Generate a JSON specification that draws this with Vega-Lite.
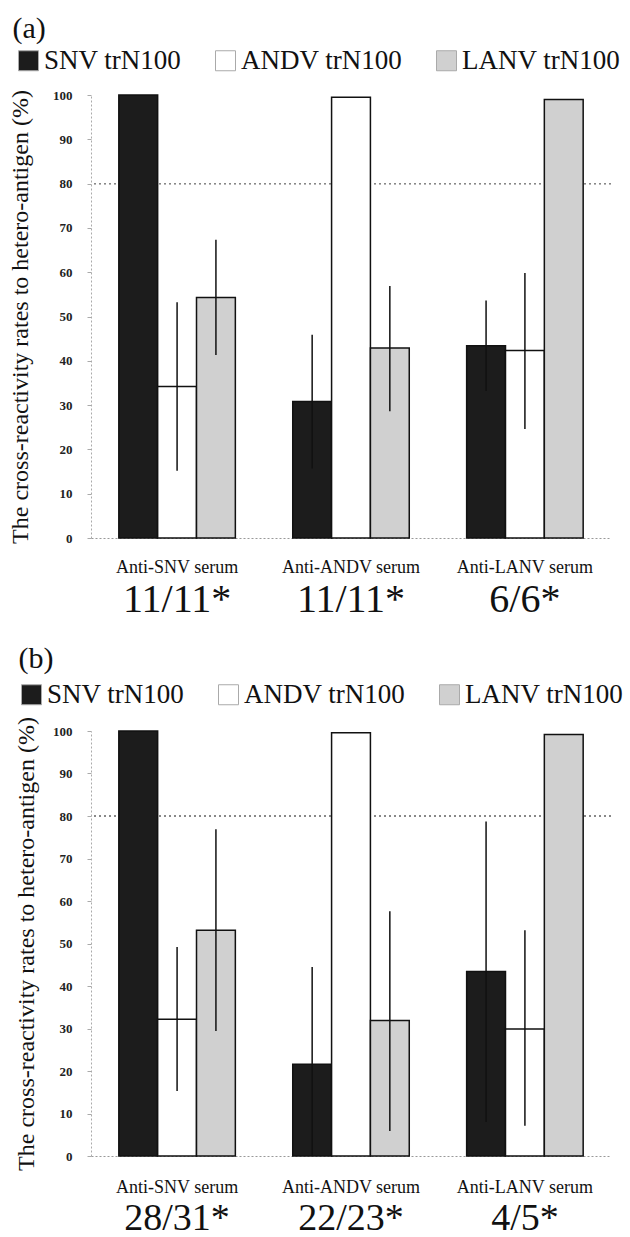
{
  "$schema": "https://vega.github.io/schema/vega-lite/v6.json",
  "background": "white",
  "padding": {"left": 8, "top": 14, "right": 5, "bottom": 0},
  "config": {
    "font": "Liberation Serif",
    "view": {"stroke": null},
    "axis": {"labelFont": "Liberation Serif", "titleFont": "Liberation Serif"},
    "legend": {"labelFont": "Liberation Serif", "titleFont": "Liberation Serif", "padding": 0},
    "title": {"font": "Liberation Serif"}
  },
  "datasets": {
    "rates": [
      {"panel": "a", "serum": "Anti-SNV serum", "virus": "SNV trN100", "value": 100, "lo": null, "hi": null},
      {"panel": "a", "serum": "Anti-SNV serum", "virus": "ANDV trN100", "value": 34.2, "lo": 15.2, "hi": 53.2},
      {"panel": "a", "serum": "Anti-SNV serum", "virus": "LANV trN100", "value": 54.3, "lo": 41.3, "hi": 67.3},
      {"panel": "a", "serum": "Anti-ANDV serum", "virus": "SNV trN100", "value": 30.8, "lo": 15.7, "hi": 45.9},
      {"panel": "a", "serum": "Anti-ANDV serum", "virus": "ANDV trN100", "value": 99.5, "lo": null, "hi": null},
      {"panel": "a", "serum": "Anti-ANDV serum", "virus": "LANV trN100", "value": 42.9, "lo": 28.6, "hi": 56.9},
      {"panel": "a", "serum": "Anti-LANV serum", "virus": "SNV trN100", "value": 43.4, "lo": 33.2, "hi": 53.6},
      {"panel": "a", "serum": "Anti-LANV serum", "virus": "ANDV trN100", "value": 42.3, "lo": 24.6, "hi": 59.8},
      {"panel": "a", "serum": "Anti-LANV serum", "virus": "LANV trN100", "value": 99.0, "lo": null, "hi": null},
      {"panel": "b", "serum": "Anti-SNV serum", "virus": "SNV trN100", "value": 100, "lo": null, "hi": null},
      {"panel": "b", "serum": "Anti-SNV serum", "virus": "ANDV trN100", "value": 32.2, "lo": 15.3, "hi": 49.2},
      {"panel": "b", "serum": "Anti-SNV serum", "virus": "LANV trN100", "value": 53.1, "lo": 29.4, "hi": 76.9},
      {"panel": "b", "serum": "Anti-ANDV serum", "virus": "SNV trN100", "value": 21.6, "lo": 0, "hi": 44.5},
      {"panel": "b", "serum": "Anti-ANDV serum", "virus": "ANDV trN100", "value": 99.6, "lo": null, "hi": null},
      {"panel": "b", "serum": "Anti-ANDV serum", "virus": "LANV trN100", "value": 31.9, "lo": 5.9, "hi": 57.6},
      {"panel": "b", "serum": "Anti-LANV serum", "virus": "SNV trN100", "value": 43.4, "lo": 8, "hi": 78.7},
      {"panel": "b", "serum": "Anti-LANV serum", "virus": "ANDV trN100", "value": 29.9, "lo": 7.1, "hi": 53.1},
      {"panel": "b", "serum": "Anti-LANV serum", "virus": "LANV trN100", "value": 99.2, "lo": null, "hi": null}
    ]
  },
  "spacing": 25,
  "resolve": {"scale": {"fill": "independent"}, "legend": {"fill": "independent"}},
  "vconcat": [
    {
      "width": 520,
      "height": 443,
      "title": {"text": "(a)", "anchor": "start", "frame": "bounds", "fontSize": 30, "fontWeight": "normal", "font": "Liberation Serif", "offset": 3, "dx": 4, "color": "#111"},
      "data": {"name": "rates"},
      "transform": [{"filter": "datum.panel == 'a'"}],
      "resolve": {"axis": {"x": "independent"}},
      "layer": [
        {
          "mark": {"type": "rule", "strokeDash": [2, 3], "color": "#888", "strokeWidth": 1},
          "encoding": {"y": {"datum": 80, "type": "quantitative"}}
        },
        {
          "mark": {"type": "bar", "stroke": "#111", "strokeWidth": 1.5},
          "encoding": {
            "x": {"field": "serum", "type": "nominal", "sort": ["Anti-SNV serum", "Anti-ANDV serum", "Anti-LANV serum"],
                  "scale": {"paddingInner": 0.33, "paddingOuter": 0.16},
                  "axis": {"title": null, "labelAngle": 0, "labelFontSize": 18, "labelPadding": 20, "ticks": false, "domainDash": [2, 2], "domainColor": "#999", "labelColor": "#111"}},
            "xOffset": {"field": "virus", "type": "nominal", "sort": ["SNV trN100", "ANDV trN100", "LANV trN100"]},
            "y": {"field": "value", "type": "quantitative", "scale": {"domain": [0, 100]},
                  "axis": {"title": "The cross-reactivity rates to hetero-antigen (%)", "titleFontSize": 24, "titleFontWeight": "normal", "titleColor": "#111", "titlePadding": 20,
                           "values": [0, 10, 20, 30, 40, 50, 60, 70, 80, 90, 100], "labelFontSize": 13, "labelFontWeight": "bold", "labelColor": "#222", "labelPadding": 15,
                           "grid": false, "domainDash": [2, 2], "domainColor": "#aaa", "tickSize": 4, "tickColor": "#aaa"}},
            "fill": {"field": "virus", "type": "nominal",
                     "scale": {"domain": ["SNV trN100", "ANDV trN100", "LANV trN100"], "range": ["#1c1c1c", "#ffffff", "#d0d0d0"]},
                     "legend": {"title": null, "orient": "none", "legendX": -76, "legendY": -48, "direction": "horizontal",
                                "labelFontSize": 27, "labelColor": "#111", "symbolType": "square", "symbolSize": 400, "columnPadding": 30,
                                "labelOffset": 2, "labelLimit": 300, "symbolStrokeColor": "#aaa", "symbolStrokeWidth": 1}}
          }
        },
        {
          "mark": {"type": "rule", "color": "#111", "strokeWidth": 1.5},
          "encoding": {
            "x": {"field": "serum", "type": "nominal", "sort": ["Anti-SNV serum", "Anti-ANDV serum", "Anti-LANV serum"],
                  "axis": {"orient": "bottom", "title": null, "labelAngle": 0, "labelFontSize": 40, "labelPadding": 41, "ticks": false, "domain": false, "labelColor": "#111",
                           "labelExpr": "datum.value == 'Anti-SNV serum' ? '11/11*' : datum.value == 'Anti-ANDV serum' ? '11/11*' : '6/6*'"}},
            "xOffset": {"field": "virus", "type": "nominal", "sort": ["SNV trN100", "ANDV trN100", "LANV trN100"]},
            "y": {"field": "lo", "type": "quantitative"},
            "y2": {"field": "hi"}
          }
        }
      ]
    },
    {
      "width": 520,
      "height": 425,
      "title": {"text": "(b)", "anchor": "start", "frame": "bounds", "fontSize": 30, "fontWeight": "normal", "font": "Liberation Serif", "offset": 7, "dx": 4, "color": "#111"},
      "data": {"name": "rates"},
      "transform": [{"filter": "datum.panel == 'b'"}],
      "resolve": {"axis": {"x": "independent"}},
      "layer": [
        {
          "mark": {"type": "rule", "strokeDash": [2, 3], "color": "#888", "strokeWidth": 1},
          "encoding": {"y": {"datum": 80, "type": "quantitative"}}
        },
        {
          "mark": {"type": "bar", "stroke": "#111", "strokeWidth": 1.5},
          "encoding": {
            "x": {"field": "serum", "type": "nominal", "sort": ["Anti-SNV serum", "Anti-ANDV serum", "Anti-LANV serum"],
                  "scale": {"paddingInner": 0.33, "paddingOuter": 0.16},
                  "axis": {"title": null, "labelAngle": 0, "labelFontSize": 18, "labelPadding": 22, "ticks": false, "domainDash": [2, 2], "domainColor": "#999", "labelColor": "#111"}},
            "xOffset": {"field": "virus", "type": "nominal", "sort": ["SNV trN100", "ANDV trN100", "LANV trN100"]},
            "y": {"field": "value", "type": "quantitative", "scale": {"domain": [0, 100]},
                  "axis": {"title": "The cross-reactivity rates to hetero-antigen (%)", "titleFontSize": 24, "titleFontWeight": "normal", "titleColor": "#111", "titlePadding": 14,
                           "values": [0, 10, 20, 30, 40, 50, 60, 70, 80, 90, 100], "labelFontSize": 13, "labelFontWeight": "bold", "labelColor": "#222", "labelPadding": 15,
                           "grid": false, "domainDash": [2, 2], "domainColor": "#aaa", "tickSize": 4, "tickColor": "#aaa"}},
            "fill": {"field": "virus", "type": "nominal",
                     "scale": {"domain": ["SNV trN100", "ANDV trN100", "LANV trN100"], "range": ["#1c1c1c", "#ffffff", "#d0d0d0"]},
                     "legend": {"title": null, "orient": "none", "legendX": -73, "legendY": -50, "direction": "horizontal",
                                "labelFontSize": 27, "labelColor": "#111", "symbolType": "square", "symbolSize": 400, "columnPadding": 30,
                                "labelOffset": 2, "labelLimit": 300, "symbolStrokeColor": "#aaa", "symbolStrokeWidth": 1}}
          }
        },
        {
          "mark": {"type": "rule", "color": "#111", "strokeWidth": 1.5},
          "encoding": {
            "x": {"field": "serum", "type": "nominal", "sort": ["Anti-SNV serum", "Anti-ANDV serum", "Anti-LANV serum"],
                  "axis": {"orient": "bottom", "title": null, "labelAngle": 0, "labelFontSize": 38, "labelPadding": 43, "ticks": false, "domain": false, "labelColor": "#111",
                           "labelExpr": "datum.value == 'Anti-SNV serum' ? '28/31*' : datum.value == 'Anti-ANDV serum' ? '22/23*' : '4/5*'"}},
            "xOffset": {"field": "virus", "type": "nominal", "sort": ["SNV trN100", "ANDV trN100", "LANV trN100"]},
            "y": {"field": "lo", "type": "quantitative"},
            "y2": {"field": "hi"}
          }
        }
      ]
    }
  ]
}
